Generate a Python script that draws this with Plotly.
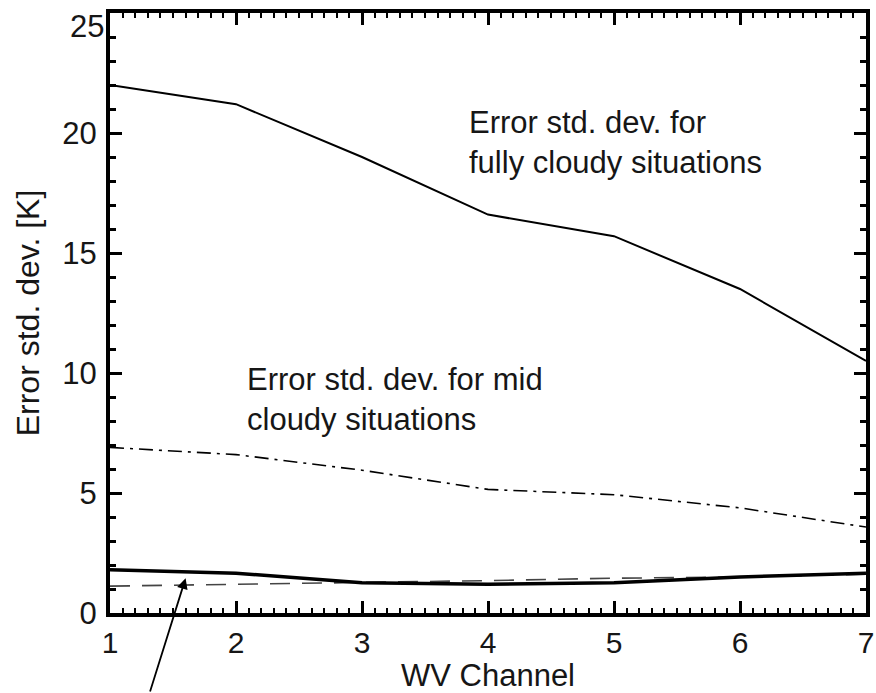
import plotly.graph_objects as go

channels = [1, 2, 3, 4, 5, 6, 7]
fully_cloudy = [22.0, 21.2, 19.0, 16.6, 15.7, 13.5, 10.5]
mid_cloudy = [6.9, 6.6, 5.95, 5.15, 4.93, 4.38, 3.58]
clear_solid = [1.8, 1.66, 1.26, 1.2, 1.26, 1.5, 1.66]
clear_dashed = [1.12, 1.2, 1.25, 1.35, 1.45, 1.5, 1.62]
y_ticks = [0, 5, 10, 15, 20, 25]
y_ticktext = ["0", "5", "10", "15", "20", ""]  # top label drawn below its tick, as in the reference
top_label = "25"

FONT = "Liberation Sans, Arial, sans-serif"
TXT = "#161616"

fig = go.Figure()
fig.add_trace(go.Scatter(x=channels, y=fully_cloudy, mode="lines",
                         line=dict(color="black", width=2), showlegend=False))
fig.add_trace(go.Scatter(x=channels, y=mid_cloudy, mode="lines",
                         line=dict(color="black", width=1.6, dash="14px,6px,3px,6px"),
                         showlegend=False))
fig.add_trace(go.Scatter(x=channels, y=clear_dashed, mode="lines",
                         line=dict(color="#444", width=1.6, dash="20px,12px"),
                         showlegend=False))
fig.add_trace(go.Scatter(x=channels, y=clear_solid, mode="lines",
                         line=dict(color="black", width=3.5), showlegend=False))

fig.add_annotation(x=3.83, y=19.6, xref="x", yref="y",
                   text="Error std. dev. for<br>fully cloudy situations",
                   showarrow=False, xanchor="left", yanchor="middle", align="left",
                   font=dict(family=FONT, size=31, color=TXT))
fig.add_annotation(x=2.07, y=8.9, xref="x", yref="y",
                   text="Error std. dev. for mid<br>cloudy situations",
                   showarrow=False, xanchor="left", yanchor="middle", align="left",
                   font=dict(family=FONT, size=31, color=TXT))
fig.add_annotation(x=1.6, y=1.45, xref="x", yref="y", text="",
                   showarrow=True, arrowhead=2, arrowsize=1.2, arrowwidth=1.8,
                   arrowcolor="black", ax=-36, ay=118, standoff=0)
fig.add_annotation(x=0, y=y_ticks[-1], xref="paper", yref="y", text=top_label,
                   showarrow=False, xanchor="right", yanchor="top", xshift=-4, yshift=6,
                   font=dict(family=FONT, size=31, color=TXT))

axis_common = dict(showline=True, linecolor="black", linewidth=4, mirror="allticks",
                   ticks="inside", ticklen=12, tickwidth=3, tickcolor="black",
                   showgrid=False, zeroline=False, ticklabeloverflow="allow",
                   automargin=False)

fig.update_xaxes(range=[1, 7], tickmode="array", tickvals=channels,
                 ticklabelstandoff=0, tickfont=dict(family=FONT, size=30, color=TXT),
                 title=dict(text="WV Channel", font=dict(family=FONT, size=31, color=TXT),
                            standoff=0),
                 minor=dict(dtick=0.1, ticks="inside", ticklen=5, tickwidth=2, tickcolor="black"),
                 **axis_common)
fig.update_yaxes(range=[0, 25], tickmode="array", tickvals=y_ticks, ticktext=y_ticktext,
                 ticklabelstandoff=3, tickfont=dict(family=FONT, size=31, color=TXT),
                 title=dict(text="Error std. dev. [K]", font=dict(family=FONT, size=32, color=TXT),
                            standoff=14),
                 minor=dict(dtick=1, ticks="inside", ticklen=6, tickwidth=2.5, tickcolor="black"),
                 **axis_common)

fig.update_layout(width=876, height=693, margin=dict(l=110, r=10, t=13, b=80),
                  plot_bgcolor="white", paper_bgcolor="white")

fig.write_html("out.html")
